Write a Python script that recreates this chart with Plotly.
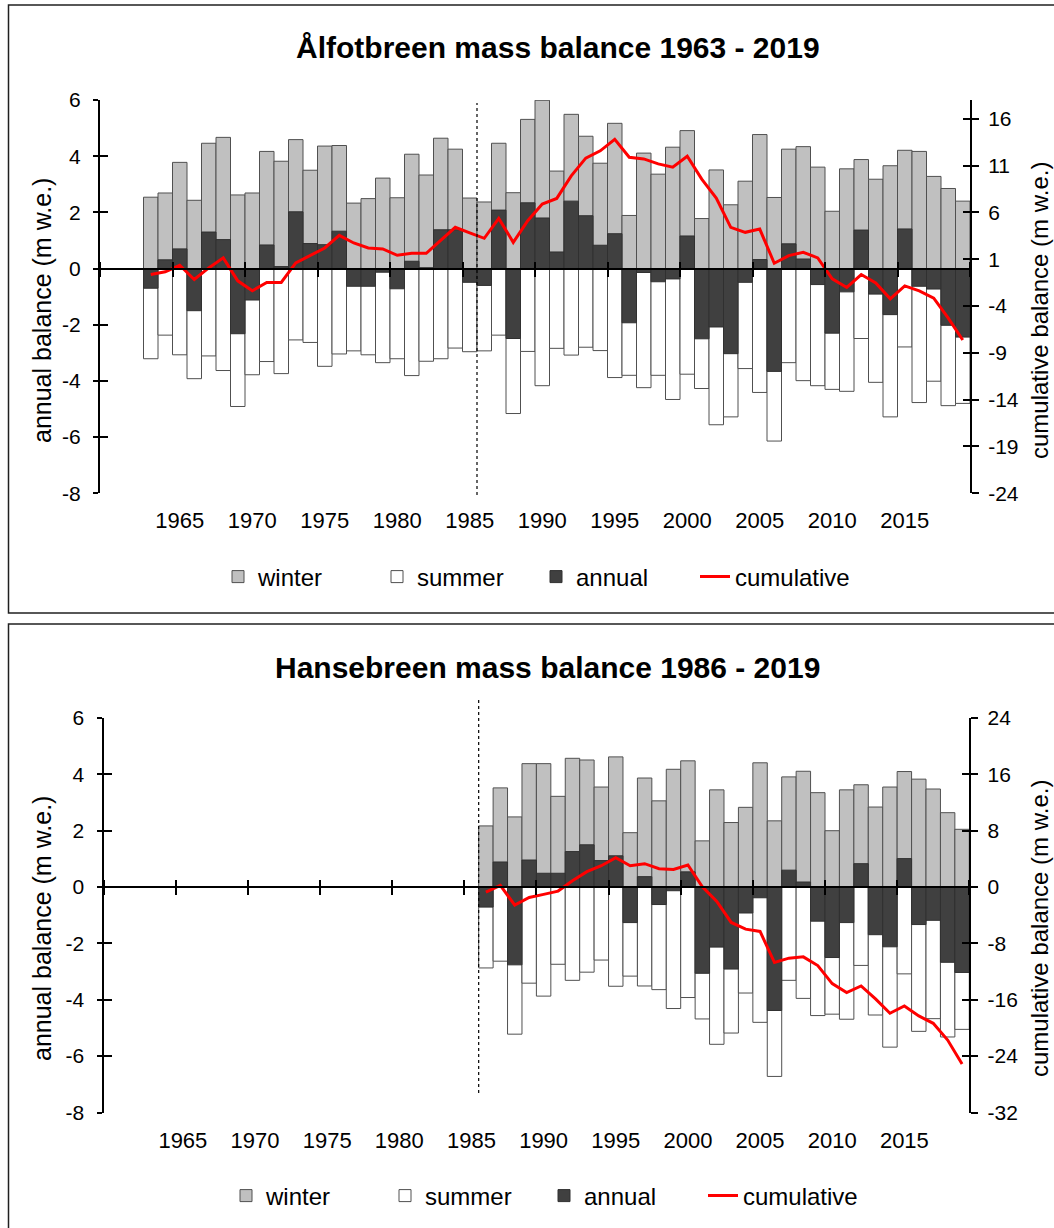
import plotly.graph_objects as go

# ---------------- data: Ålfotbreen 1963-2019 ----------------
years_a = list(range(1963, 2020))
winter_a = [2.54, 2.69, 3.78, 2.43, 4.46, 4.67, 2.62, 2.69, 4.17, 3.82, 4.59, 3.50, 4.36, 4.38, 2.33, 2.49, 3.22,
            2.52, 4.07, 3.33, 4.64, 4.25, 2.51, 2.37, 4.46, 2.70, 5.31, 5.99, 3.47, 5.49, 4.71, 3.75, 5.17, 1.89, 4.11, 3.36, 4.32,
            4.91, 1.78, 3.51, 2.27, 3.11, 4.77, 2.53, 4.25, 4.34, 3.61, 2.04, 3.55, 3.88, 3.18, 3.66, 4.21, 4.17, 3.28, 2.85, 2.40]
summer_a = [-3.21, -2.37, -3.07, -3.92, -3.11, -3.63, -4.91, -3.78, -3.31, -3.74, -2.54, -2.63, -3.48, -3.04, -2.93, -3.07, -3.35,
            -3.21, -3.81, -3.30, -3.21, -2.83, -2.96, -2.93, -2.37, -5.16, -2.95, -4.17, -2.84, -3.08, -2.80, -2.92, -3.88, -3.80, -4.24, -3.80, -4.66,
            -3.76, -4.27, -5.56, -5.28, -3.56, -4.41, -6.14, -3.35, -3.99, -4.17, -4.30, -4.37, -2.49, -4.05, -5.28, -2.79, -4.77, -4.01, -4.88, -4.80]
annual_a = [-0.70, 0.31, 0.70, -1.50, 1.30, 1.03, -2.32, -1.12, 0.84, 0.07, 2.02, 0.89, 0.85, 1.33, -0.63, -0.63, -0.13,
            -0.72, 0.26, 0.03, 1.38, 1.38, -0.49, -0.60, 2.08, -2.49, 2.34, 1.80, 0.59, 2.40, 1.88, 0.83, 1.24, -1.93, -0.14, -0.47, -0.37,
            1.16, -2.50, -2.08, -3.03, -0.49, 0.32, -3.66, 0.88, 0.34, -0.57, -2.30, -0.83, 1.37, -0.91, -1.64, 1.41, -0.63, -0.73, -2.02, -2.44]
cumul_a = [-0.64, -0.35, 0.35, -1.17, 0.07, 1.14, -1.31, -2.38, -1.49, -1.49, 0.60, 1.42, 2.20, 3.55, 2.73, 2.20, 2.09,
           1.42, 1.63, 1.63, 3.02, 4.40, 3.80, 3.23, 5.36, 2.80, 5.11, 6.89, 7.49, 9.90, 11.79, 12.57, 13.81, 11.89, 11.71, 11.18, 10.83,
           12.00, 9.55, 7.53, 4.40, 3.87, 4.22, 0.57, 1.38, 1.74, 1.14, -1.10, -2.02, -0.64, -1.53, -3.23, -1.85, -2.38, -3.16, -5.29, -7.63]

# ---------------- data: Hansebreen 1986-2019 ----------------
years_h = list(range(1986, 2020))
winter_h = [2.17, 3.52, 2.49, 4.38, 4.38, 3.22, 4.57, 4.51, 3.55, 4.62,
            1.93, 3.87, 3.06, 4.18, 4.48, 1.64, 3.45, 2.29, 2.83, 4.41,
            2.35, 3.91, 4.11, 3.35, 2.00, 3.45, 3.63, 2.84, 3.55, 4.10,
            3.83, 3.48, 2.64, 2.05]
summer_h = [-2.87, -2.63, -5.22, -3.41, -3.87, -2.74, -3.31, -3.02, -2.59, -3.52,
            -3.16, -3.51, -3.64, -4.31, -3.92, -4.68, -5.58, -5.18, -3.76, -4.80,
            -6.72, -3.31, -3.95, -4.56, -4.51, -4.69, -2.78, -4.54, -5.68, -3.08,
            -5.12, -4.67, -5.32, -5.05]
annual_h = [-0.71, 0.89, -2.76, 0.96, 0.49, 0.49, 1.26, 1.50, 0.94, 1.11,
            -1.26, 0.37, -0.62, -0.13, 0.54, -3.06, -2.13, -2.91, -0.92, -0.38,
            -4.38, 0.60, 0.18, -1.21, -2.50, -1.26, 0.83, -1.69, -2.12, 1.01,
            -1.33, -1.18, -2.67, -3.03]
cumul_h = [-0.71, 0.24, -2.56, -1.47, -1.04, -0.57, 0.90, 2.18, 3.03, 4.17,
           3.03, 3.32, 2.61, 2.51, 3.13, 0.05, -2.04, -5.02, -5.97, -6.30,
           -10.71, -10.09, -9.91, -11.14, -13.70, -14.98, -14.03, -15.88, -17.91, -16.87,
           -18.29, -19.34, -21.71, -25.12]

year_labels = [1965, 1970, 1975, 1980, 1985, 1990, 1995, 2000, 2005, 2010, 2015]
cat_bounds = [1959.5 + 5 * i for i in range(13)]
x_range = [1959.5, 2019.5]
divider_year = 1985.5
left_ticks = [-8, -6, -4, -2, 0, 2, 4, 6]
right_ticks_a = [-24, -19, -14, -9, -4, 1, 6, 11, 16]
right_ticks_h = [-32, -24, -16, -8, 0, 8, 16, 24]

titles = ["Ålfotbreen mass balance 1963 - 2019", "Hansebreen mass balance 1986 - 2019"]
left_title = "annual balance (m w.e.)"
right_title = "cumulative balance (m w.e.)"

W, H = 1054, 1228
FONT = "Liberation Sans, Arial, sans-serif"
WINTER_C, SUMMER_C, ANNUAL_C, EDGE_C = "#c0c0c0", "#ffffff", "#404040", "#505050"


def py(p):
    return 1 - p / H


panels = [
    dict(xd=[100 / W, 970 / W], yd=[py(493.3), py(100)], xa="x", xz="x3", xt="x4", ya="y", yr="y2", yil="y5", yir="y6",
         leg="legend", right_range=[-24, 18], right_ticks=right_ticks_a,
         years=years_a, winter=winter_a, summer=summer_a, annual=annual_a, cumul=cumul_a,
         title_xy=(558, 47), ltitle_y=311, div=(495, 103), legend_y=577, legend_x=218),
    dict(xd=[103.5 / W, 969.3 / W], yd=[py(1112.5), py(718)], xa="x2", xz="x5", xt="x6", ya="y3", yr="y4", yil="y7", yir="y8",
         leg="legend2", right_range=[-32, 24], right_ticks=right_ticks_h,
         years=years_h, winter=winter_h, summer=summer_h, annual=annual_h, cumul=cumul_h,
         title_xy=(547, 667), ltitle_y=929, div=(1093, 700), legend_y=1196, legend_x=226),
]

fig = go.Figure()
layout = dict(width=W, height=H, margin=dict(l=0, r=0, t=0, b=0, pad=0, autoexpand=False),
              paper_bgcolor="white", plot_bgcolor="rgba(0,0,0,0)",
              barmode="overlay", font=dict(family=FONT, color="black"), showlegend=True, shapes=[], annotations=[])


def axname(a):
    return "xaxis" + a[1:] if a.startswith("x") else "yaxis" + a[1:]


for i, p in enumerate(panels):
    common = dict(xaxis=p["xa"], yaxis=p["ya"], legend=p["leg"], hoverinfo="skip")
    fig.add_trace(go.Bar(x=p["years"], y=p["winter"], width=1, name="winter",
                         marker=dict(color=WINTER_C, line=dict(color=EDGE_C, width=1)), **common))
    fig.add_trace(go.Bar(x=p["years"], y=p["summer"], width=1, name="summer",
                         marker=dict(color=SUMMER_C, line=dict(color=EDGE_C, width=1)), **common))
    fig.add_trace(go.Bar(x=p["years"], y=p["annual"], width=1, name="annual",
                         marker=dict(color=ANNUAL_C, line=dict(color="#303030", width=1)), **common))
    fig.add_trace(go.Scatter(x=p["years"], y=p["cumul"], mode="lines", name="cumulative",
                             line=dict(color="#ff0000", width=3), xaxis=p["xa"], yaxis=p["yr"],
                             legend=p["leg"], hoverinfo="skip"))
    # dummy traces so the overlay tick axes are rendered
    for xa, ya in [(p["xz"], p["ya"]), (p["xt"], p["ya"]), (p["xa"], p["yil"]), (p["xa"], p["yir"])]:
        fig.add_trace(go.Scatter(x=[None], y=[None], xaxis=xa, yaxis=ya, showlegend=False, hoverinfo="skip"))

    zpos = p["yd"][0] + (0 - (-8)) / 14 * (p["yd"][1] - p["yd"][0])
    layout[axname(p["xa"])] = dict(domain=p["xd"], anchor=p["ya"], range=x_range, tickvals=year_labels,
                                   ticks="", showline=False, showgrid=False, zeroline=False,
                                   tickfont=dict(size=22, family=FONT, color="black"), ticklabelstandoff=12)
    layout[axname(p["ya"])] = dict(domain=p["yd"], anchor=p["xa"], range=[-8, 6],
                                   tickvals=left_ticks, ticktext=[str(v) for v in left_ticks],
                                   ticks="outside", ticklen=5, tickwidth=2, tickcolor="black",
                                   showline=True, linewidth=2, linecolor="black", showgrid=False, zeroline=False,
                                   tickfont=dict(size=21, family=FONT, color="black"), ticklabelstandoff=8)
    layout[axname(p["yr"])] = dict(overlaying=p["ya"], anchor=p["xa"], side="right", range=p["right_range"],
                                   tickvals=p["right_ticks"], ticktext=[str(v) for v in p["right_ticks"]],
                                   ticks="outside", ticklen=7, tickwidth=2, tickcolor="black",
                                   showline=True, linewidth=2, linecolor="black", showgrid=False, zeroline=False,
                                   tickfont=dict(size=21, family=FONT, color="black"), ticklabelstandoff=5)
    layout[axname(p["yil"])] = dict(overlaying=p["ya"], anchor=p["xa"], side="left", range=[-8, 6],
                                    tickvals=left_ticks, ticks="inside", ticklen=8, tickwidth=2, tickcolor="black",
                                    showline=False, showticklabels=False, showgrid=False, zeroline=False)
    layout[axname(p["yir"])] = dict(overlaying=p["ya"], anchor=p["xa"], side="right", range=p["right_range"],
                                    tickvals=p["right_ticks"], ticks="inside", ticklen=7, tickwidth=2,
                                    tickcolor="black", showline=False, showticklabels=False, showgrid=False,
                                    zeroline=False)
    layout[axname(p["xz"])] = dict(overlaying=p["xa"], anchor="free", position=zpos, side="bottom", range=x_range,
                                   tickvals=cat_bounds, ticks="outside", ticklen=7, tickwidth=2, tickcolor="black",
                                   showline=True, linewidth=2, linecolor="black", showticklabels=False,
                                   showgrid=False, zeroline=False)
    layout[axname(p["xt"])] = dict(overlaying=p["xa"], anchor="free", position=zpos, side="top", range=x_range,
                                   tickvals=cat_bounds, ticks="outside", ticklen=7, tickwidth=2, tickcolor="black",
                                   showline=False, showticklabels=False, showgrid=False, zeroline=False)

    layout[p["leg"]] = dict(orientation="h", x=p["legend_x"] / W, y=py(p["legend_y"]), xanchor="left",
                            yanchor="middle", font=dict(size=24, family=FONT, color="black"),
                            bgcolor="rgba(0,0,0,0)", traceorder="normal", entrywidth=114,
                            entrywidthmode="pixels")

    # dotted divider
    layout["shapes"].append(dict(type="line", xref=p["xa"], yref="paper", x0=divider_year, x1=divider_year,
                                 y0=py(p["div"][0]), y1=py(p["div"][1]),
                                 line=dict(color="black", width=1.2, dash="dot")))
    # titles
    layout["annotations"].append(dict(text="<b>%s</b>" % titles[i], xref="paper", yref="paper",
                                      x=p["title_xy"][0] / W, y=py(p["title_xy"][1]), xanchor="center",
                                      yanchor="middle", showarrow=False,
                                      font=dict(size=30, family=FONT, color="black")))
    layout["annotations"].append(dict(text=left_title, xref="paper", yref="paper", x=42 / W, y=py(p["ltitle_y"]),
                                      xanchor="center", yanchor="middle", textangle=-90, showarrow=False,
                                      font=dict(size=25, family=FONT, color="black")))
    layout["annotations"].append(dict(text=right_title, xref="paper", yref="paper", x=1039 / W, y=py(p["ltitle_y"]),
                                      xanchor="center", yanchor="middle", textangle=-90, showarrow=False,
                                      font=dict(size=24, family=FONT, color="black")))

# panel frames
layout["shapes"].append(dict(type="rect", xref="paper", yref="paper", x0=8.5 / W, x1=1.02, y0=py(613), y1=py(5),
                             line=dict(color="#202020", width=1.5), fillcolor="rgba(0,0,0,0)", layer="below"))
layout["shapes"].append(dict(type="rect", xref="paper", yref="paper", x0=8.5 / W, x1=1.02, y0=-0.02, y1=py(624),
                             line=dict(color="#202020", width=1.5), fillcolor="rgba(0,0,0,0)", layer="below"))

fig.update_layout(**layout)
fig.write_html("out.html")
